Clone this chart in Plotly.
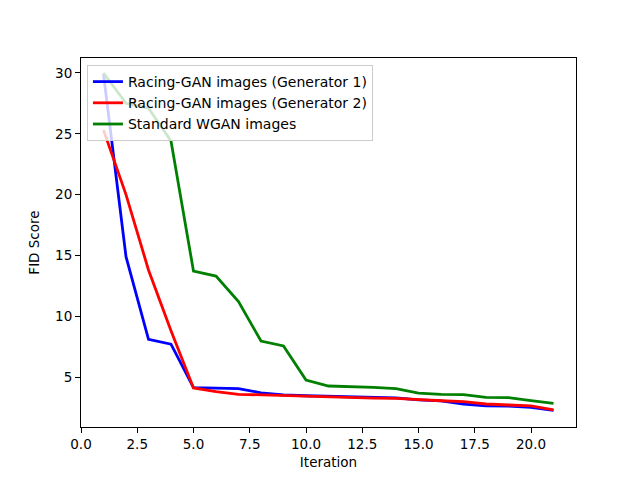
import plotly.graph_objects as go

iterations = list(range(1, 22))
gen1 = [29.9, 14.9, 8.1, 7.7, 4.12, 4.07, 4.04, 3.7, 3.52, 3.46, 3.42, 3.34, 3.31, 3.28, 3.12, 3.03, 2.78, 2.62, 2.6, 2.5, 2.26]
gen2 = [25.3, 20.0, 13.8, 8.8, 4.1, 3.8, 3.58, 3.52, 3.48, 3.4, 3.36, 3.3, 3.27, 3.25, 3.13, 3.05, 2.97, 2.78, 2.7, 2.62, 2.3]
wgan = [30.0, 27.5, 27.1, 24.4, 13.7, 13.3, 11.2, 7.96, 7.55, 4.75, 4.26, 4.22, 4.15, 4.05, 3.68, 3.58, 3.55, 3.33, 3.3, 3.05, 2.83]

names = ["Racing-GAN images (Generator 1)", "Racing-GAN images (Generator 2)", "Standard WGAN images"]
colors = ["#0000ff", "#ff0000", "#008000"]

fig = go.Figure()
for name, ys, c in zip(names, [gen1, gen2, wgan], colors):
    fig.add_trace(go.Scatter(x=iterations, y=ys, mode="lines", name=name,
                             line=dict(color=c, width=2.8)))

axis_common = dict(showgrid=False, zeroline=False, showline=True, linecolor="black",
                   linewidth=1, mirror=True, ticks="outside", ticklen=5, tickwidth=1,
                   tickcolor="black", tickfont=dict(size=13.5, color="black"))

fig.update_layout(
    width=640, height=480,
    margin=dict(l=81, r=64, t=58, b=53),
    paper_bgcolor="white", plot_bgcolor="white",
    font=dict(family="DejaVu Sans", size=13.5, color="black"),
    xaxis=dict(range=[0, 22], dtick=2.5, tick0=0, tickformat=".1f",
               title=dict(text="Iteration", standoff=6, font=dict(size=13.5)), **axis_common),
    yaxis=dict(range=[0.89, 31.23], dtick=5, tick0=0,
               title=dict(text="FID Score", standoff=12, font=dict(size=13.5)), **axis_common),
    legend=dict(x=0.012, y=0.981, xanchor="left", yanchor="top",
                bgcolor="rgba(255,255,255,0.8)", bordercolor="#cccccc", borderwidth=1,
                font=dict(size=14), tracegroupgap=0, itemwidth=30),
    showlegend=True,
)

fig.write_html("out.html")
